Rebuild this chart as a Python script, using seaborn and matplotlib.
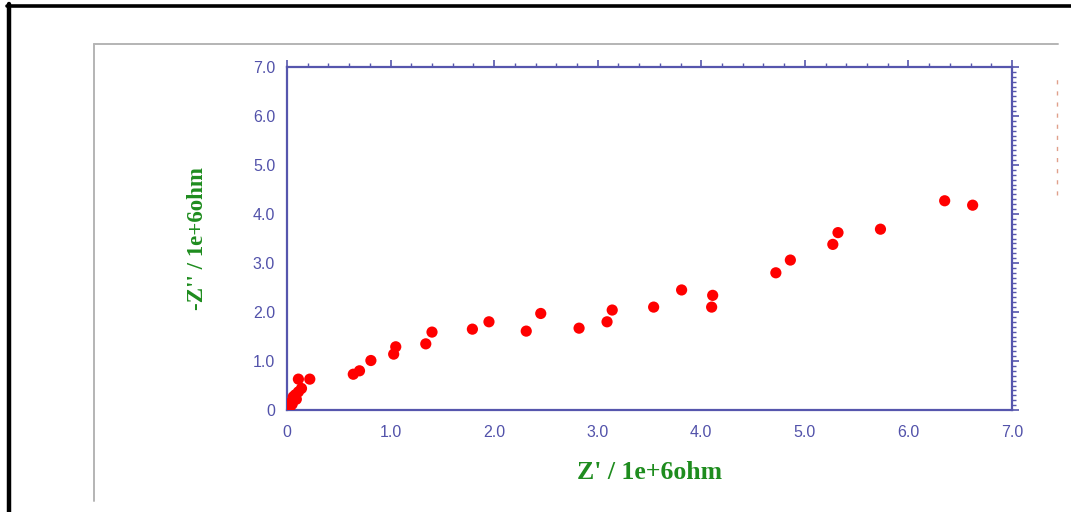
import numpy as np
import pandas as pd
import seaborn as sns
import matplotlib.pyplot as plt
from matplotlib.lines import Line2D
from matplotlib.ticker import MultipleLocator, FuncFormatter

# Nyquist data (units of 1e+6 ohm)
z_real = [0.03, 0.045, 0.06, 0.08, 0.11, 0.14, 0.02, 0.05, 0.09, 0.11, 0.22,
          0.64, 0.70, 0.81, 1.03, 1.05, 1.34, 1.40, 1.79, 1.95, 2.31, 2.45,
          2.82, 3.09, 3.14, 3.54, 3.81, 4.11, 4.10, 4.72, 4.86, 5.27, 5.32,
          5.73, 6.35, 6.62]
z_imag = [0.07, 0.17, 0.27, 0.31, 0.37, 0.44, 0.03, 0.12, 0.22, 0.63, 0.63,
          0.73, 0.80, 1.01, 1.14, 1.29, 1.35, 1.59, 1.65, 1.80, 1.61, 1.97,
          1.67, 1.80, 2.04, 2.10, 2.45, 2.34, 2.10, 2.80, 3.06, 3.38, 3.62,
          3.69, 4.27, 4.18]

df = pd.DataFrame({"Zre": z_real, "Zim": z_imag})

sns.set_style("white")
plt.rcParams['font.family'] = ['Liberation Sans', 'DejaVu Sans']

axis_col = "#5656ad"
label_col = "#1e8c1e"

fig = plt.figure(figsize=(10.71, 5.12), dpi=100)
ax = fig.add_axes([287 / 1071, 1 - 410 / 512, 725 / 1071, 343 / 512])

sns.scatterplot(data=df, x="Zre", y="Zim", ax=ax, color="#ff0000",
                s=65, edgecolor="none", zorder=3)

ax.set_xlim(0, 7)
ax.set_ylim(0, 7)
ax.xaxis.set_major_locator(MultipleLocator(1.0))
ax.xaxis.set_minor_locator(MultipleLocator(0.2))
ax.yaxis.set_major_locator(MultipleLocator(1.0))
ax.yaxis.set_minor_locator(MultipleLocator(0.1))
fmt = FuncFormatter(lambda v, p: "0" if abs(v) < 1e-9 else f"{v:.1f}")
ax.xaxis.set_major_formatter(fmt)
ax.yaxis.set_major_formatter(fmt)

for sp in ax.spines.values():
    sp.set_color(axis_col)
    sp.set_linewidth(1.6)
ax.tick_params(which="both", direction="out", colors=axis_col,
               top=True, right=True, labelsize=11.5, labelcolor="#5252aa")
ax.tick_params(which="major", length=5, width=1.2)
ax.tick_params(which="minor", length=3, width=1.0)
ax.tick_params(axis="x", which="major", pad=6)

ax.set_xlabel("Z' / 1e+6ohm", family=["Liberation Serif"], fontweight="bold",
              fontsize=18.5, color=label_col, labelpad=15)
ax.set_ylabel("-Z'' / 1e+6ohm", family=["Liberation Serif"], fontweight="bold",
              fontsize=16.5, color=label_col, labelpad=32)

# outer black frame and inner grey frame of the screenshot
fig.add_artist(Line2D([7 / 1071, 1], [1 - 5.5 / 512] * 2, color="black", lw=2.6))
fig.add_artist(Line2D([9 / 1071] * 2, [0, 1 - 4 / 512], color="black", lw=3.2))
fig.add_artist(Line2D([94 / 1071, 1058 / 1071], [1 - 44 / 512] * 2, color="#b4b4b4", lw=1.4))
fig.add_artist(Line2D([94 / 1071] * 2, [1 - 501 / 512, 1 - 44 / 512], color="#b4b4b4", lw=1.4))
# clipped dashed marker at right edge
fig.add_artist(Line2D([1057 / 1071] * 2, [1 - 195 / 512, 1 - 75 / 512], color="#d9886e",
                      lw=1.0, linestyle=(0, (3, 5)), alpha=0.8))

fig.savefig("out.png", dpi=100, facecolor="white")
